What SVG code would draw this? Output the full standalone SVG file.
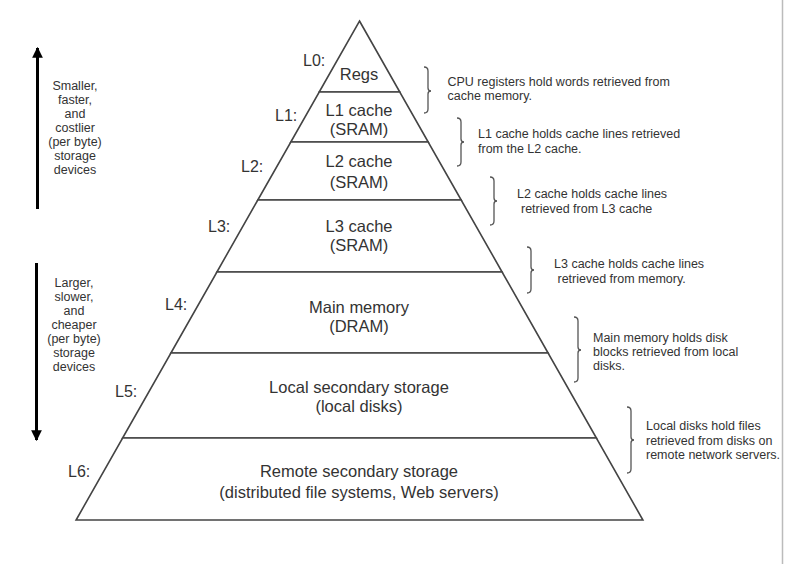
<svg xmlns="http://www.w3.org/2000/svg" width="800" height="564" viewBox="0 0 800 564">
<defs>
<style>
.lvl{fill:#fff;stroke:#444;stroke-width:1.6;stroke-linejoin:miter}
.t{font-family:"Liberation Sans",Arial,sans-serif;font-size:16.5px;fill:#333;text-anchor:middle}
.lb{font-family:"Liberation Sans",Arial,sans-serif;font-size:16px;fill:#333}
.a{font-family:"Liberation Sans",Arial,sans-serif;font-size:12.5px;fill:#333}
.s{font-family:"Liberation Sans",Arial,sans-serif;font-size:12.5px;fill:#333;text-anchor:middle}
.br{fill:none;stroke:#555;stroke-width:1.3}
.ar{stroke:#000;stroke-width:3;fill:none}
</style>
<marker id="ah" viewBox="0 0 10 10" refX="9" refY="5" markerWidth="3.6" markerHeight="3.6" orient="auto" markerUnits="strokeWidth">
<path d="M0,0 L10,5 L0,10 z" fill="#000"/>
</marker>
</defs>
<rect width="800" height="564" fill="#fff"/>
<line x1="782.5" y1="0" x2="782.5" y2="564" stroke="#bbb" stroke-width="1.5"/>

<g id="L0">
<polygon class="lvl" points="359.5,21 399.8,92 319.2,92"/>
<text class="lb" x="303" y="66">L0:</text>
<text class="t" x="359" y="80">Regs</text>
</g>
<g id="L1">
<polygon class="lvl" points="319.2,92 399.8,92 428.2,142 290.8,142"/>
<text class="lb" x="275" y="121">L1:</text>
<text class="t" x="359" y="116">L1 cache</text>
<text class="t" x="359" y="135">(SRAM)</text>
</g>
<g id="L2">
<polygon class="lvl" points="290.8,142 428.2,142 461.2,200 257.8,200"/>
<text class="lb" x="241" y="172">L2:</text>
<text class="t" x="359" y="167">L2 cache</text>
<text class="t" x="359" y="188">(SRAM)</text>
</g>
<g id="L3">
<polygon class="lvl" points="257.8,200 461.2,200 502.1,272 216.9,272"/>
<text class="lb" x="208" y="232">L3:</text>
<text class="t" x="359" y="232">L3 cache</text>
<text class="t" x="359" y="251">(SRAM)</text>
</g>
<g id="L4">
<polygon class="lvl" points="216.9,272 502.1,272 548.1,353 170.9,353"/>
<text class="lb" x="165" y="310">L4:</text>
<text class="t" x="359" y="313">Main memory</text>
<text class="t" x="359" y="332">(DRAM)</text>
</g>
<g id="L5">
<polygon class="lvl" points="170.9,353 548.1,353 596.4,438 122.6,438"/>
<text class="lb" x="115" y="397">L5:</text>
<text class="t" x="359" y="393">Local secondary storage</text>
<text class="t" x="359" y="412">(local disks)</text>
</g>
<g id="L6">
<polygon class="lvl" points="122.6,438 596.4,438 642.9,520 76.1,520"/>
<text class="lb" x="68" y="477">L6:</text>
<text class="t" x="359" y="477">Remote secondary storage</text>
<text class="t" x="359" y="498">(distributed file systems, Web servers)</text>
</g>

<g id="connectors">
<line class="ar" x1="37.5" y1="209" x2="37.5" y2="48" marker-end="url(#ah)"/>
<line class="ar" x1="36.5" y1="263" x2="36.5" y2="440" marker-end="url(#ah)"/>
<path class="br" d="M424,67 Q428,67 428,71 L428,88 Q428,91 431,91 Q428,91 428,94 L428,109 Q428,113 424,113"/>
<path class="br" d="M457,118 Q461,118 461,122 L461,139 Q461,142 464,142 Q461,142 461,145 L461,162 Q461,166 457,166"/>
<path class="br" d="M490,177 Q494,177 494,181 L494,198 Q494,201 497,201 Q494,201 494,204 L494,221 Q494,225 490,225"/>
<path class="br" d="M527,247 Q531,247 531,251 L531,267 Q531,270 534,270 Q531,270 531,273 L531,289 Q531,293 527,293"/>
<path class="br" d="M574,317 Q578,317 578,321 L578,347 Q578,350 581,350 Q578,350 578,353 L578,378 Q578,382 574,382"/>
<path class="br" d="M627,407 Q631,407 631,411 L631,437 Q631,440 634,440 Q631,440 631,443 L631,469 Q631,473 627,473"/>
</g>

<g id="notes">
<text class="a" x="447.5" y="86">CPU registers hold words retrieved from</text>
<text class="a" x="447.5" y="100">cache memory.</text>
<text class="a" x="478" y="138">L1 cache holds cache lines retrieved</text>
<text class="a" x="478" y="153">from the L2 cache.</text>
<text class="a" x="517" y="198">L2 cache holds cache lines</text>
<text class="a" x="521" y="213">retrieved from L3 cache</text>
<text class="a" x="554" y="268">L3 cache holds cache lines</text>
<text class="a" x="557.5" y="283">retrieved from memory.</text>
<text class="a" x="593" y="342">Main memory holds disk</text>
<text class="a" x="593" y="356">blocks retrieved from local</text>
<text class="a" x="593" y="370">disks.</text>
<text class="a" x="646" y="430">Local disks hold files</text>
<text class="a" x="646" y="445">retrieved from disks on</text>
<text class="a" x="646" y="459">remote network servers.</text>
</g>

<g id="side">
<text class="s" x="75" y="90">Smaller,</text>
<text class="s" x="75" y="104">faster,</text>
<text class="s" x="75" y="118">and</text>
<text class="s" x="75" y="132">costlier</text>
<text class="s" x="75" y="146">(per byte)</text>
<text class="s" x="75" y="160">storage</text>
<text class="s" x="75" y="174">devices</text>
<text class="s" x="74" y="287">Larger,</text>
<text class="s" x="74" y="301">slower,</text>
<text class="s" x="74" y="315">and</text>
<text class="s" x="74" y="329">cheaper</text>
<text class="s" x="74" y="343">(per byte)</text>
<text class="s" x="74" y="357">storage</text>
<text class="s" x="74" y="371">devices</text>
</g>
</svg>
